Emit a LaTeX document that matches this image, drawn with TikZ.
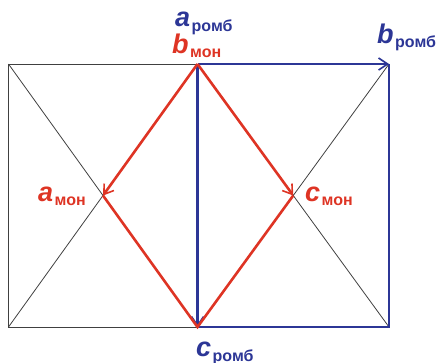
\documentclass[tikz,border=0pt]{standalone}
\usepackage{fontspec}
\setmainfont{Liberation Sans}
\usetikzlibrary{arrows.meta,calc}
\definecolor{rred}{RGB}{222,52,36}
\definecolor{bblue}{RGB}{44,54,150}
\tikzset{
  thinline/.style={draw=black!75, line width=0.8pt},
  blueline/.style={draw=bblue, line width=2.6pt},
  redline/.style={draw=rred, line width=2.6pt},
  barb/.style={-{Straight Barb[length=9pt,width=12pt,line width=1.6pt]}},
  lbl/.style={inner sep=0pt, anchor=base west},
}
\newcommand{\vlab}[3]{{\fontsize{27}{27}\selectfont\bfseries\itshape #1}\kern1.5pt\raisebox{-#3pt}{\fontsize{16}{16}\selectfont\bfseries #2}}
\begin{document}
\begin{tikzpicture}[x=1pt,y=-1pt]
\useasboundingbox (0,0) rectangle (441,362);
\coordinate (TL) at (8.5,64);
\coordinate (TC) at (197.5,64);
\coordinate (TR) at (389,64);
\coordinate (BL) at (8.5,327);
\coordinate (BC) at (197.5,327);
\coordinate (BR) at (389,327);
\coordinate (L) at ($(TL)!0.5!(BC)$);
\coordinate (R) at ($(TC)!0.5!(BR)$);
% black outline and diagonals
\draw[thinline] (TC) -- (TL) -- (BL) -- (BC);
\draw[thinline] (TL) -- (BC) (BL) -- (TC);
\draw[thinline] (TC) -- (BR) (BC) -- (TR);
% blue
\draw[blueline] (TR) -- (BR) -- (BC);
\draw[blueline,barb] (TC) -- (TR);
\draw[blueline,barb] (TC) -- (BC);
% red
\draw[redline] (L) -- (BC) -- (R);
\draw[redline,barb] (TC) -- (L);
\draw[redline,barb] (TC) -- (R);
% labels
\node[lbl,text=bblue] (aromb) at (175,26) {\vlab{a}{ромб}{5}};
\node[lbl,text=rred] (bmon) at (172,53) {\vlab{b}{мон}{4}};
\node[lbl,text=bblue] (bromb) at (377,43) {\vlab{b}{ромб}{4}};
\node[lbl,text=rred] (amon) at (38,201) {\vlab{a}{мон}{4}};
\node[lbl,text=rred] (cmon) at (305,201) {\vlab{c}{мон}{4}};
\node[lbl,text=bblue] (cromb) at (196,356) {\vlab{c}{ромб}{5}};
\end{tikzpicture}
\end{document}
